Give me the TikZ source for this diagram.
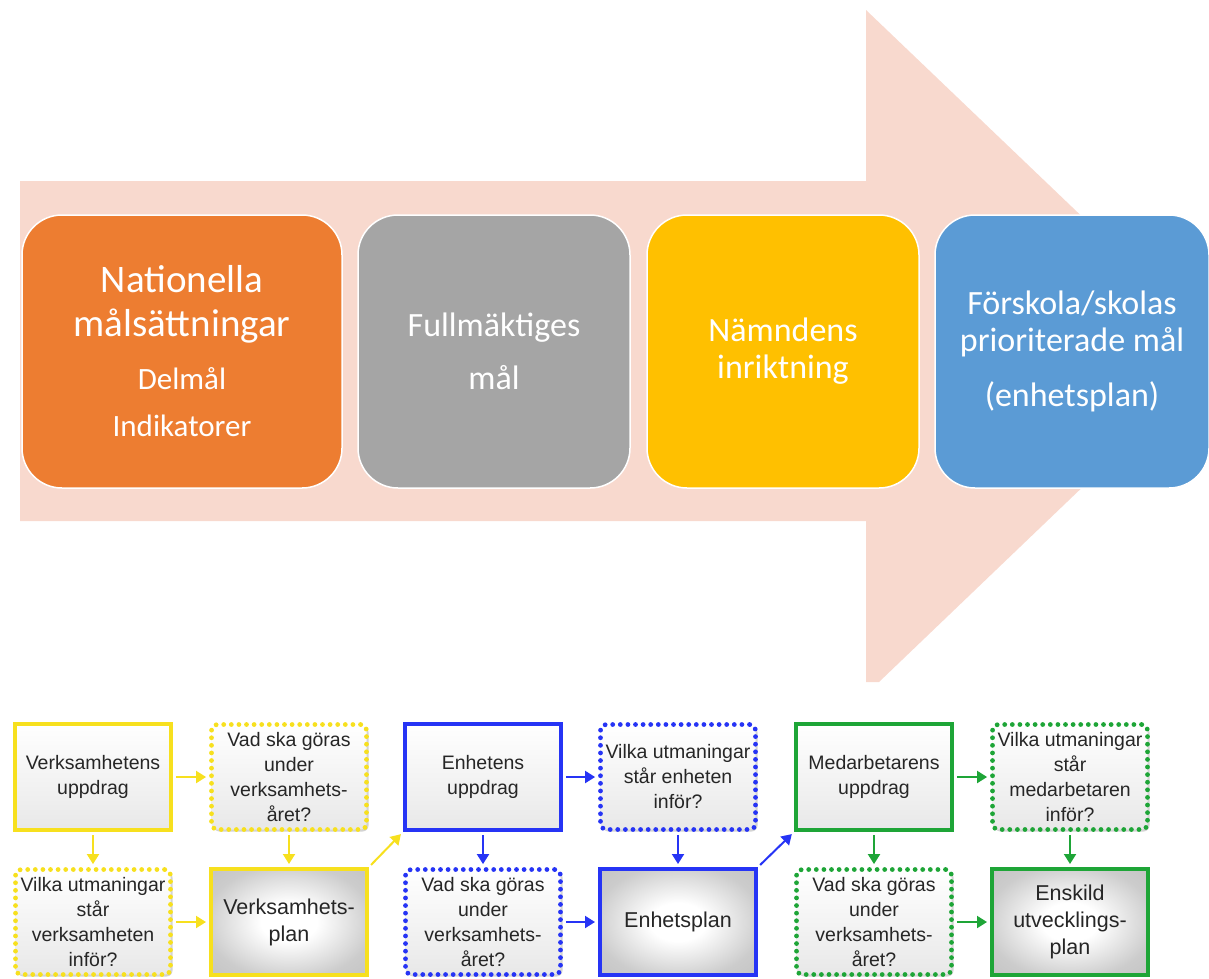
\documentclass[tikz,border=0pt]{standalone}
\usepackage{fontspec}
\setmainfont{Carlito}
\newfontfamily\flowfont{Liberation Sans}
\usetikzlibrary{arrows.meta,shadows}

\definecolor{arrowpink}{HTML}{F8D9CE}
\definecolor{goalorange}{HTML}{ED7D31}
\definecolor{goalgray}{HTML}{A5A5A5}
\definecolor{goalyellow}{HTML}{FFC000}
\definecolor{goalblue}{HTML}{5B9BD5}
\definecolor{flowyellow}{HTML}{F7E01E}
\definecolor{flowblue}{HTML}{2634F5}
\definecolor{flowgreen}{HTML}{1EA537}

\pgfdeclareradialshading{planshade}{\pgfpoint{0bp}{0bp}}{color(0bp)=(white); color(9bp)=(white);
  color(27bp)=(black!20); color(50bp)=(black!28)}

\tikzset{
  goal/.style={draw=white, line width=1.5pt, rounded corners=40pt, minimum height=273pt,
    minimum width=272pt, text=white, align=center, inner sep=0pt,
    font=\fontsize{34}{37}\selectfont},
  task/.style={line width=4pt, minimum width=156pt, minimum height=106pt, inner sep=2pt,
    align=center, text=black!85, font=\flowfont\fontsize{19.5}{25}\selectfont,
    top color=white, bottom color=gray!18,
    drop shadow={opacity=0.35, shadow xshift=2pt, shadow yshift=-2pt}},
  question/.style={task, line width=4.8pt, dash pattern=on 0pt off 7.6pt, line cap=round,
    rounded corners=6pt, minimum width=155pt, minimum height=105pt},
  plan/.style={task, shading=planshade, font=\flowfont\fontsize{21.5}{27}\selectfont},
  flow/.style={line width=2pt, -{Triangle[length=10pt,width=12pt]}, shorten <=3pt, shorten >=3pt},
}

\begin{document}
\begin{tikzpicture}[x=1pt, y=-1pt]
      \useasboundingbox (0,0) rectangle (1209,978);

      % big arrow
      \fill[arrowpink] (20,181) -- (866,181) -- (866,10) -- (1209,338) -- (1209,366)
        -- (879,682) -- (866,682) -- (866,521) -- (20,521) -- cycle;

      \node[goal, fill=goalorange, minimum width=320pt, font=\fontsize{39}{44}\selectfont] (nat)  at  (182, 351.5)
        {Nationella\\målsättningar\\[9pt]{\fontsize{31}{36}\selectfont Delmål}\\[3pt]{\fontsize{31}{36}\selectfont Indikatorer}};
      \node[goal, fill=goalgray, font=\fontsize{34}{40}\selectfont] (full)  at  (494, 351.5){Fullmäktiges\\[13pt]mål};
      \node[goal, fill=goalyellow] (namnd)  at  (783, 351.5){Nämndens\\inriktning};
      \node[goal, fill=goalblue, minimum width=274pt] (skola)  at  (1072, 351.5){Förskola/skolas\\prioriterade mål\\[18pt](enhetsplan)};

      % verksamheten
      \node[task, draw=flowyellow] (vuppdrag)  at  (93, 777){Verksamhetens\\uppdrag};
      \node[question, draw=flowyellow] (vgora)  at  (289, 777){Vad ska göras\\under\\verksamhets-\\året?};
      \node[question, draw=flowyellow] (vutman)  at  (93, 922){Vilka utmaningar\\står\\verksamheten\\inför?};
      \node[plan, draw=flowyellow] (vplan)  at  (289, 922){Verksamhets-\\plan};

      % enheten
      \node[task, draw=flowblue] (euppdrag)  at  (483, 777){Enhetens\\uppdrag};
      \node[question, draw=flowblue] (eutman)  at  (678, 777){Vilka utmaningar\\står enheten\\inför?};
      \node[question, draw=flowblue] (egora)  at  (483, 922){Vad ska göras\\under\\verksamhets-\\året?};
      \node[plan, draw=flowblue] (eplan)  at  (678, 922){Enhetsplan};

      % medarbetaren
      \node[task, draw=flowgreen] (muppdrag)  at  (874, 777){Medarbetarens\\uppdrag};
      \node[question, draw=flowgreen] (mutman)  at  (1070, 777){Vilka utmaningar\\står\\medarbetaren\\inför?};
      \node[question, draw=flowgreen] (mgora)  at  (874, 922){Vad ska göras\\under\\verksamhets-\\året?};
      \node[plan, draw=flowgreen] (mplan)  at  (1070, 922){Enskild\\utvecklings-\\plan};

      \draw[flow, flowyellow] (vuppdrag) -- (vgora);
      \draw[flow, flowyellow] (vuppdrag) -- (vutman);
      \draw[flow, flowyellow] (vgora) -- (vplan);
      \draw[flow, flowyellow] (vutman) -- (vplan);
      \draw[flow, flowyellow] (vplan.north east) -- (euppdrag.south west);

      \draw[flow, flowblue] (euppdrag) -- (eutman);
      \draw[flow, flowblue] (euppdrag) -- (egora);
      \draw[flow, flowblue] (eutman) -- (eplan);
      \draw[flow, flowblue] (egora) -- (eplan);
      \draw[flow, flowblue] (eplan.north east) -- (muppdrag.south west);

      \draw[flow, flowgreen] (muppdrag) -- (mutman);
      \draw[flow, flowgreen] (muppdrag) -- (mgora);
      \draw[flow, flowgreen] (mutman) -- (mplan);
      \draw[flow, flowgreen] (mgora) -- (mplan);
    \end{tikzpicture}
\end{document}
